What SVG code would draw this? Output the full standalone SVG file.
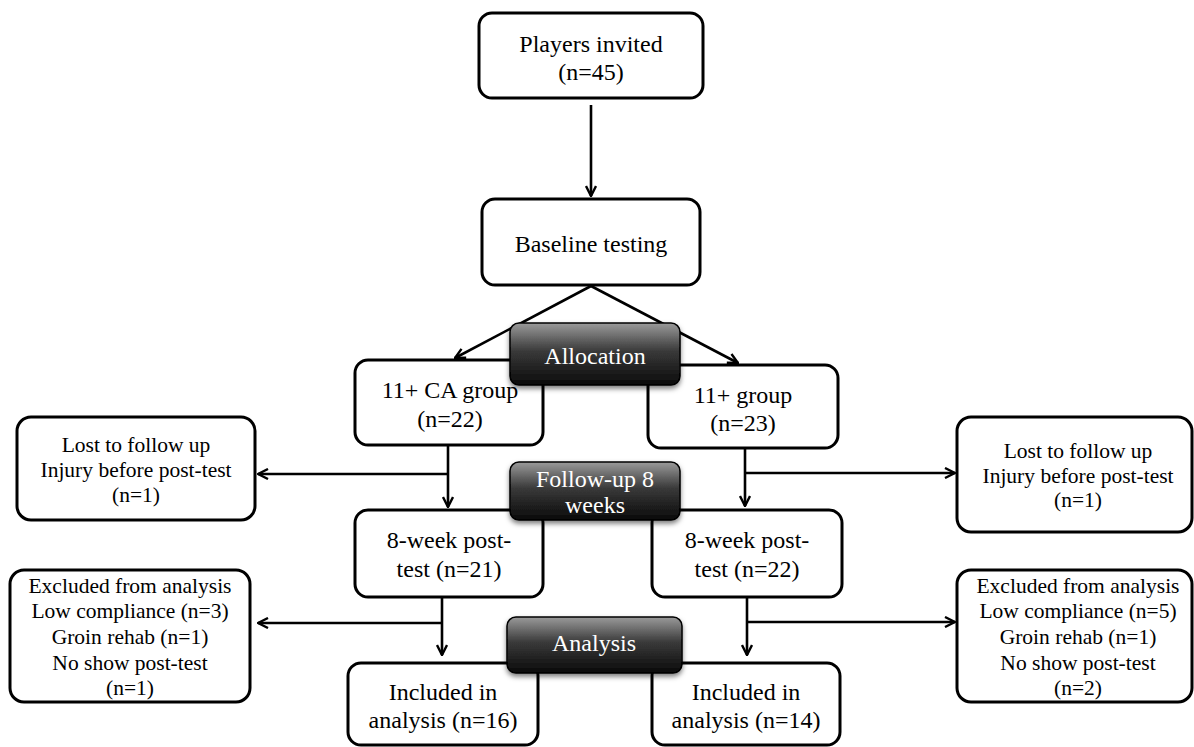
<svg xmlns="http://www.w3.org/2000/svg" width="1194" height="747" viewBox="0 0 1194 747">
<style>
.box{fill:#fff;stroke:#000;stroke-width:3}
.t{font-family:"Liberation Serif","Times New Roman",serif;font-size:24px;fill:#000;text-anchor:middle}
.s{font-family:"Liberation Serif","Times New Roman",serif;font-size:21.5px;fill:#000;text-anchor:middle}
.w{font-family:"Liberation Serif","Times New Roman",serif;font-size:24px;fill:#fff;text-anchor:middle}
.ln{fill:none;stroke:#000;stroke-width:2.6}
.dark{fill:url(#g);stroke:#000;stroke-width:1.5;filter:url(#sh)}
</style>
<defs>
<linearGradient id="g" x1="0" y1="0" x2="0" y2="1">
<stop offset="0" stop-color="#9a9a9a"/>
<stop offset="0.45" stop-color="#3a3a3a"/>
<stop offset="1" stop-color="#0a0a0a"/>
</linearGradient>
<filter id="sh" x="-10%" y="-20%" width="120%" height="150%">
<feDropShadow dx="0" dy="3" stdDeviation="2.5" flood-color="#000" flood-opacity="0.5"/>
</filter>
<marker id="a" viewBox="0 0 12 12" refX="11" refY="6" markerWidth="12" markerHeight="12" markerUnits="userSpaceOnUse" orient="auto">
<path d="M1,1 L11,6 L1,11" fill="none" stroke="#000" stroke-width="2.4"/>
</marker>
</defs>

<g id="connectors">
<line class="ln" x1="591" y1="105" x2="591" y2="196" marker-end="url(#a)"/>
<line class="ln" x1="591" y1="286" x2="455" y2="358" marker-end="url(#a)"/>
<line class="ln" x1="591" y1="286" x2="738" y2="363" marker-end="url(#a)"/>
<line class="ln" x1="448" y1="445" x2="448" y2="507" marker-end="url(#a)"/>
<line class="ln" x1="448" y1="474" x2="258" y2="474" marker-end="url(#a)"/>
<line class="ln" x1="745" y1="448" x2="745" y2="506" marker-end="url(#a)"/>
<line class="ln" x1="745" y1="473" x2="955" y2="473" marker-end="url(#a)"/>
<line class="ln" x1="442" y1="597" x2="442" y2="655" marker-end="url(#a)"/>
<line class="ln" x1="442" y1="623" x2="258" y2="623" marker-end="url(#a)"/>
<line class="ln" x1="747" y1="597" x2="747" y2="655" marker-end="url(#a)"/>
<line class="ln" x1="747" y1="622" x2="955" y2="622" marker-end="url(#a)"/>
</g>

<g id="players">
<rect class="box" x="479" y="13" width="224" height="85" rx="13"/>
<text class="t" x="591" y="52">Players invited</text>
<text class="t" x="591" y="80">(n=45)</text>
</g>
<g id="baseline">
<rect class="box" x="482" y="199" width="218" height="86" rx="13"/>
<text class="t" x="591" y="252">Baseline testing</text>
</g>
<g id="ca-group">
<rect class="box" x="355" y="360" width="188" height="85" rx="13"/>
<text class="t" x="450" y="398">11+ CA group</text>
<text class="t" x="450" y="427">(n=22)</text>
</g>
<g id="group">
<rect class="box" x="648" y="365" width="190" height="83" rx="13"/>
<text class="t" x="743" y="403">11+ group</text>
<text class="t" x="743" y="431">(n=23)</text>
</g>
<g id="lost-left">
<rect class="box" x="17" y="417" width="238" height="103" rx="14"/>
<text class="s" x="136" y="452">Lost to follow up</text>
<text class="s" x="136" y="477">Injury before post-test</text>
<text class="s" x="136" y="502">(n=1)</text>
</g>
<g id="lost-right">
<rect class="box" x="957" y="417" width="235" height="115" rx="14"/>
<text class="s" x="1078" y="458">Lost to follow up</text>
<text class="s" x="1078" y="483">Injury before post-test</text>
<text class="s" x="1078" y="507">(n=1)</text>
</g>
<g id="post-left">
<rect class="box" x="355" y="510" width="188" height="87" rx="13"/>
<text class="t" x="449" y="548">8-week post-</text>
<text class="t" x="449" y="577">test (n=21)</text>
</g>
<g id="post-right">
<rect class="box" x="652" y="510" width="190" height="87" rx="13"/>
<text class="t" x="747" y="548">8-week post-</text>
<text class="t" x="747" y="577">test (n=22)</text>
</g>
<g id="excl-left">
<rect class="box" x="10" y="570" width="240" height="132" rx="14"/>
<text class="s" x="130" y="593">Excluded from analysis</text>
<text class="s" x="130" y="618">Low compliance (n=3)</text>
<text class="s" x="130" y="644">Groin rehab (n=1)</text>
<text class="s" x="130" y="670">No show post-test</text>
<text class="s" x="130" y="695">(n=1)</text>
</g>
<g id="excl-right">
<rect class="box" x="957" y="570" width="235" height="132" rx="14"/>
<text class="s" x="1078" y="593">Excluded from analysis</text>
<text class="s" x="1078" y="618">Low compliance (n=5)</text>
<text class="s" x="1078" y="644">Groin rehab (n=1)</text>
<text class="s" x="1078" y="670">No show post-test</text>
<text class="s" x="1078" y="695">(n=2)</text>
</g>
<g id="incl-left">
<rect class="box" x="348" y="663" width="190" height="82" rx="13"/>
<text class="t" x="443" y="700">Included in</text>
<text class="t" x="443" y="728">analysis (n=16)</text>
</g>
<g id="incl-right">
<rect class="box" x="652" y="663" width="188" height="82" rx="13"/>
<text class="t" x="746" y="700">Included in</text>
<text class="t" x="746" y="728">analysis (n=14)</text>
</g>

<g id="allocation">
<rect class="dark" x="510" y="323" width="170" height="62" rx="9"/>
<text class="w" x="595" y="364">Allocation</text>
</g>
<g id="follow-up">
<rect class="dark" x="510" y="462" width="170" height="58" rx="9"/>
<text class="w" x="595" y="487">Follow-up 8</text>
<text class="w" x="595" y="513">weeks</text>
</g>
<g id="analysis">
<rect class="dark" x="507" y="617" width="175" height="56" rx="9"/>
<text class="w" x="594" y="651">Analysis</text>
</g>
</svg>
